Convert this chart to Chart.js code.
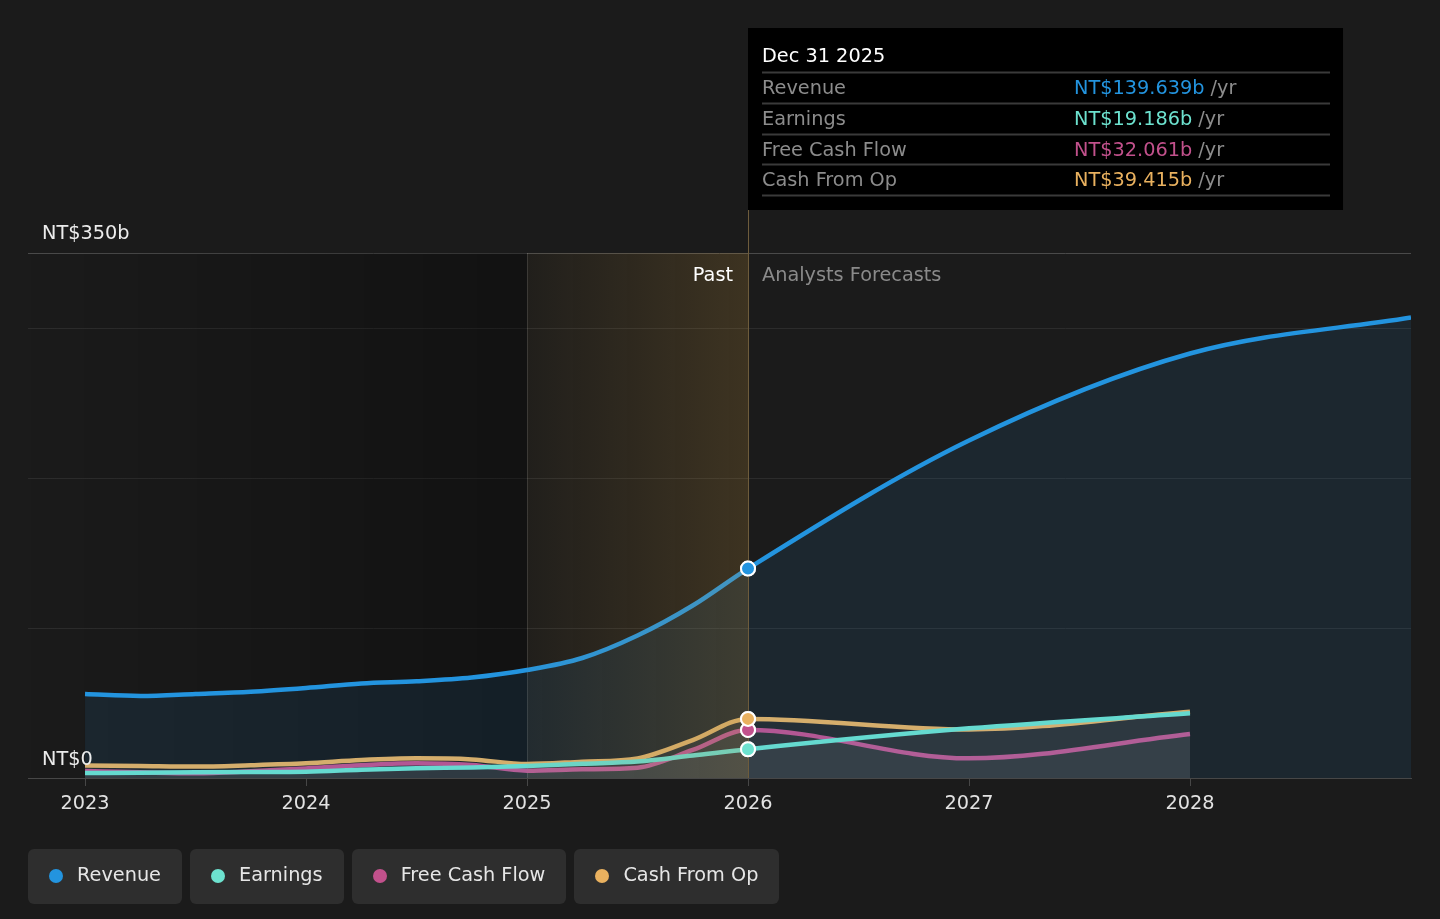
<!DOCTYPE html>
<html>
<head>
<meta charset="utf-8">
<script src="https://cdn.jsdelivr.net/npm/chart.js@4.4.1/dist/chart.umd.min.js"></script>
<style>
  html, body { margin: 0; padding: 0; background: #1b1b1b; }
  #wrap { position: relative; width: 1440px; height: 919px; overflow: hidden; }
  #chart { position: absolute; left: 0; top: 0; }
  .legend { position: absolute; left: 28px; top: 849px; display: flex; gap: 8px; }
  .item { height: 55px; background: #2e2e2e; border-radius: 6px; display: flex; align-items: center;
          padding: 0 21px 5px 21px; font: 19.3px "DejaVu Sans", sans-serif; color: #e6e6e6; box-sizing: border-box; }
  .dot { width: 14px; height: 14px; border-radius: 50%; margin-right: 14px; margin-top: 3px; }
</style>
</head>
<body>
<div id="wrap">
  <canvas id="chart" width="1440" height="919"></canvas>
  <div class="legend" id="legend"></div>
</div>
<script>
// quarterly history up to the Dec 2025 report, then analyst forecasts by year
const dates = [2023, 2023.25, 2023.5, 2023.75, 2024, 2024.25, 2024.5, 2024.75,
               2025, 2025.25, 2025.5, 2025.75, 2026, 2027, 2028, 2029];
const revenue      = [56, 54.7, 56, 57.5, 60, 63, 64.5, 67, 72, 80, 95, 115, 139.639, 225, 283, 307];
const earnings     = [3.3, 3.5, 3.8, 4, 4.2, 5.5, 6.5, 7, 8, 9.5, 11, 15, 19.186, 33.1, 43.1, null];
const freeCashFlow = [4.7, 3.8, 3.1, 4.5, 6.4, 8.5, 9.8, 8.7, 4.9, 5.8, 6.9, 18.7, 32.061, 13.1, 29.3, null];
const cashFromOp   = [8.4, 8, 7.6, 8.5, 9.8, 12, 13.1, 12.4, 9.3, 10.9, 13.1, 25.3, 39.415, 32.4, 44.2, null];

const seriesNames  = ['Revenue', 'Earnings', 'Free Cash Flow', 'Cash From Op'];
const seriesColors = ['#2394df', '#6de2cf', '#c2518c', '#e9b15f'];
const tickYears = [2023, 2024, 2025, 2026, 2027, 2028];
const pastStart = 2025;
const today = 2026;
const tooltipDate = 'Dec 31 2025';
const yMax = 350;

const FONT = '19.3px "DejaVu Sans", sans-serif';

function points(values) {
  return dates.map((d, i) => ({ x: d, y: values[i] })).filter(p => p.y !== null);
}

const allSeries = [revenue, earnings, freeCashFlow, cashFromOp];

const datasets = allSeries.map((vals, i) => ({
  label: seriesNames[i],
  data: points(vals),
  borderColor: seriesColors[i],
  backgroundColor: i === 0 ? 'rgba(35,148,223,0.10)' : 'rgba(200,200,200,0.06)',
  fill: 'origin',
  borderWidth: 4.5,
  cubicInterpolationMode: 'monotone',
  pointRadius: ctx => (ctx.raw && ctx.raw.x === today ? 7 : 0),
  pointBackgroundColor: seriesColors[i],
  pointBorderColor: '#ffffff',
  pointBorderWidth: 2,
  pointHoverRadius: 0
}));

const overlays = {
  id: 'overlays',
  beforeDatasetsDraw(chart) {
    const { ctx, chartArea: a, scales: { x } } = chart;
    const x0 = x.getPixelForValue(pastStart);
    ctx.save();
    const g = ctx.createLinearGradient(a.left, 0, x0, 0);
    g.addColorStop(0, 'rgba(0,0,0,0)');
    g.addColorStop(1, 'rgba(0,0,0,0.33)');
    ctx.fillStyle = g;
    ctx.fillRect(a.left, a.top, x0 - a.left, a.bottom - a.top);
    ctx.strokeStyle = 'rgba(255,255,255,0.12)';
    ctx.lineWidth = 1;
    ctx.beginPath();
    ctx.moveTo(x0 + 0.5, a.top);
    ctx.lineTo(x0 + 0.5, a.bottom);
    ctx.stroke();
    ctx.restore();
  },
  afterDatasetsDraw(chart) {
    const { ctx, chartArea: a, scales: { x, y } } = chart;
    const x0 = x.getPixelForValue(pastStart);
    const x1 = x.getPixelForValue(today);
    ctx.save();
    // past band
    const g = ctx.createLinearGradient(x0, 0, x1, 0);
    g.addColorStop(0, 'rgba(200,150,60,0.04)');
    g.addColorStop(1, 'rgba(200,150,60,0.20)');
    ctx.fillStyle = g;
    ctx.fillRect(x0, a.top, x1 - x0, a.bottom - a.top);

    // today line
    ctx.strokeStyle = '#6e5c3c';
    ctx.lineWidth = 1;
    ctx.beginPath();
    ctx.moveTo(x1 + 0.5, 210);
    ctx.lineTo(x1 + 0.5, a.bottom);
    ctx.stroke();

    // markers on top
    [1, 2, 3, 0].forEach(i => {
      chart.getDatasetMeta(i).data.forEach(el => {
        if (el.options.radius > 0) el.draw(ctx, a);
      });
    });

    ctx.font = FONT;
    ctx.textBaseline = 'middle';
    ctx.fillStyle = '#ffffff';
    ctx.textAlign = 'right';
    ctx.fillText('Past', x1 - 15, a.top + 23);
    ctx.textAlign = 'left';
    ctx.fillStyle = '#8a8a8a';
    ctx.fillText('Analysts Forecasts', x1 + 14, a.top + 23);

    // y labels
    ctx.fillStyle = '#ececec';
    ctx.fillText('NT$' + yMax + 'b', 42, y.getPixelForValue(yMax) - 19);
    ctx.fillText('NT$0', 42, y.getPixelForValue(0) - 18);

    // tooltip box
    const idx = dates.indexOf(today);
    const tx = x1, ty = 28, tw = 595, th = 182;
    ctx.fillStyle = '#000000';
    ctx.fillRect(tx, ty, tw, th);
    ctx.fillStyle = '#ffffff';
    ctx.fillText(tooltipDate, tx + 14, 57);
    ctx.strokeStyle = '#3a3a3a';
    for (let r = 0; r <= allSeries.length; r++) {
      const sy = Math.round(72 + r * 30.75) + 0.5;
      ctx.beginPath();
      ctx.moveTo(tx + 14, sy);
      ctx.lineTo(tx + tw - 13, sy);
      ctx.stroke();
    }
    allSeries.forEach((vals, r) => {
      const ry = 72 + r * 30.75 + 17;
      ctx.fillStyle = '#8c8c8c';
      ctx.fillText(seriesNames[r], tx + 14, ry);
      const txt = 'NT$' + vals[idx].toFixed(3) + 'b';
      ctx.fillStyle = seriesColors[r];
      ctx.fillText(txt, tx + 326, ry);
      const w = ctx.measureText(txt).width;
      ctx.fillStyle = '#8c8c8c';
      ctx.fillText(' /yr', tx + 326 + w, ry);
    });
    ctx.restore();
  }
};

new Chart(document.getElementById('chart'), {
  type: 'line',
  data: { datasets: datasets },
  options: {
    responsive: false,
    animation: false,
    events: [],
    layout: { padding: { left: 28, right: 29, top: 253, bottom: 81 } },
    plugins: { legend: { display: false }, tooltip: { enabled: false } },
    scales: {
      x: {
        type: 'linear',
        min: 2022.742,
        max: 2029,
        afterBuildTicks: s => { s.ticks = tickYears.map(v => ({ value: v })); },
        afterFit: s => { s.height = 60; },
        ticks: {
          color: '#e2e2e2',
          font: { family: 'DejaVu Sans', size: 19.3 },
          padding: 6,
          maxRotation: 0,
          callback: v => String(v)
        },
        grid: { drawOnChartArea: false, drawTicks: true, tickLength: 8, color: '#474747' },
        border: { color: '#474747', width: 1 }
      },
      y: {
        min: 0,
        max: yMax,
        afterFit: s => { s.width = 0; },
        ticks: { stepSize: 100, display: false },
        grid: {
          drawTicks: false,
          color: ctx => (ctx.tick.value === yMax ? '#4a4a4a' : '#2c2c2c')
        },
        border: { display: false }
      }
    }
  },
  plugins: [overlays]
});

// legend
const legend = document.getElementById('legend');
seriesNames.forEach((name, i) => {
  const item = document.createElement('div');
  item.className = 'item';
  const dot = document.createElement('span');
  dot.className = 'dot';
  dot.style.background = seriesColors[i];
  item.appendChild(dot);
  item.appendChild(document.createTextNode(name));
  legend.appendChild(item);
});
</script>
</body>
</html>
